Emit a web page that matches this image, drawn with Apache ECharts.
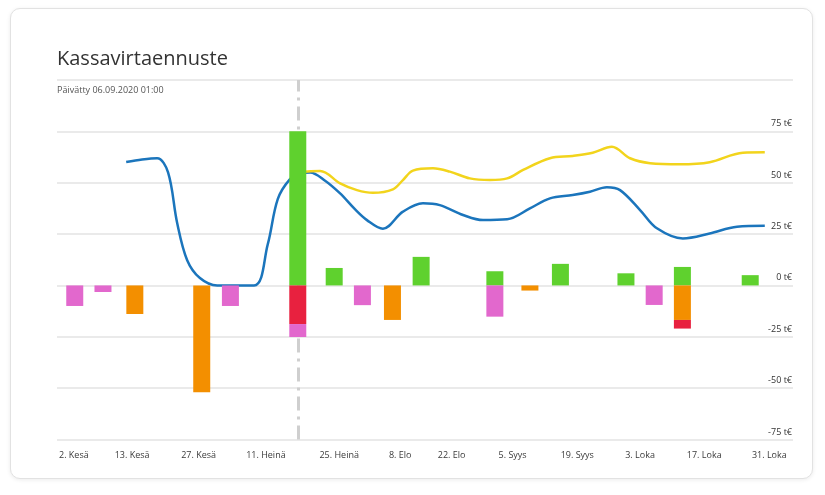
<!DOCTYPE html>
<html>
<head>
<meta charset="utf-8">
<script src="https://cdn.jsdelivr.net/npm/echarts@6/dist/echarts.min.js"></script>
<style>
  html, body { margin: 0; padding: 0; background: #ffffff; }
  #card { position: absolute; left: 10px; top: 8px; width: 801px; height: 469px;
          border: 1px solid #e2e2e2; border-radius: 10px; box-shadow: 0 1px 4px rgba(0,0,0,0.08); background: #fff; }
  #chart { position: absolute; left: 0; top: 0; width: 825px; height: 495px; }
</style>
</head>
<body>
<div id="card"></div>
<div id="chart"></div>
<script>
// x values are day offsets from 1 June 2020 (the axis in the picture is ordinal-like)
const tickLabels = ['2. Kesä', '13. Kesä', '27. Kesä', '11. Heinä', '25. Heinä', '8. Elo', '22. Elo', '5. Syys', '19. Syys', '3. Loka', '17. Loka', '31. Loka'];
const tickDays   = [-0.8, 12.0, 26.6, 41.4, 57.5, 70.9, 82.2, 95.6, 109.8, 123.6, 137.7, 152.0];

const barDays   = [-0.6, 5.6, 12.6, 27.3, 33.6, 48.4, 56.4, 62.6, 69.2, 75.5, 91.7, 99.4, 106.1, 120.5, 126.7, 132.9, 147.8];
const greenVals = [null, null, null, null, null, 75, 8.5, null, null, 13.9, 6.9, null, 10.5, 5.9, null, 9.0, 5.0];
const orangeVals= [null, null, -13.9, -52, null, null, null, null, -16.8, null, null, -2.5, null, null, null, -16.8, null];
const redVals   = [null, null, null, null, null, -18.8, null, null, null, null, null, null, null, null, null, -4.2, null];
const pinkVals  = [-10, -3.2, null, null, -10, -6.3, null, -9.6, null, null, -15.2, null, null, null, -9.5, null, null];

const blueDays = [10.7, 14.2, 17.5, 19.9, 21.9, 24.1, 26.9, 30.7, 38.8, 41.8, 44.0, 46.6, 48.9, 51.1, 54.4, 57.7, 61.0, 63.6, 67.1, 71.5, 75.9, 79.6, 84.7, 89.1, 94.4, 99.4, 103.8, 108.8, 112.6, 116.3, 119.2, 123.6, 127.3, 133.0, 138.9, 144.9, 151.0];
const blueVals = [60.1, 61.3, 61.9, 55, 30.4, 12.3, 3.6, 0, 0, 20, 42, 51.5, 54.5, 55, 51, 44.8, 37, 31.8, 27.6, 35.9, 40, 39.1, 34.3, 31.8, 32.2, 37.5, 42.4, 44, 45.6, 47.8, 46.4, 36.7, 27.8, 22.9, 25.3, 28.6, 29];

const yellowDays = [48.4, 53.3, 57.7, 61.4, 64.9, 69.3, 71.5, 73.7, 78.1, 81.8, 86.2, 90.6, 94.4, 97.9, 103.8, 108.8, 113.2, 117.4, 121.4, 125.8, 132.3, 138.9, 146.2, 151.0];
const yellowVals = [55, 55.7, 49.7, 46.4, 45.1, 46.8, 51.3, 55.9, 57, 55.4, 52.1, 51.3, 52.1, 56.2, 61.9, 63, 64.6, 67.5, 61.9, 59.5, 59, 60, 64.6, 64.8];

const todayDay = 48.4;

const font = 'Open Sans';
const pairs = (xs, ys) => xs.map((x, i) => [x, ys[i]]);
// value first so that stacking is done on the value dimension
const barPairs = (vals) => barDays.map((x, i) => [vals[i], x]);

const chart = echarts.init(document.getElementById('chart'), null, { renderer: 'canvas' });
const barSeries = (name, vals, color) => ({
  name, type: 'bar', stack: 'kassa', data: barPairs(vals), encode: { x: 1, y: 0 },
  barWidth: 17, itemStyle: { color }, z: 4, silent: true
});

chart.setOption({
  animation: false,
  backgroundColor: 'transparent',
  textStyle: { fontFamily: font },
  title: [
    { text: 'Kassavirtaennuste', left: 57, top: 49, padding: 0,
      textStyle: { fontFamily: font, fontSize: 20, fontWeight: 'normal', color: '#333' } },
    { text: 'Päivätty 06.09.2020 01:00', left: 57, top: 86, padding: 0,
      textStyle: { fontFamily: font, fontSize: 9, fontWeight: 'normal', color: '#555' } }
  ],
  grid: { left: 57, right: 32, top: 80, bottom: 55.5 },
  xAxis: {
    type: 'value', min: -4.5, max: 157.2,
    axisLine: { show: false }, axisTick: { show: false }, splitLine: { show: false },
    axisLabel: {
      customValues: tickDays, margin: 11, fontSize: 9, color: '#3a3a3a', fontFamily: font,
      formatter: (v) => { const i = tickDays.findIndex(d => Math.abs(d - v) < 1e-6); return i >= 0 ? tickLabels[i] : ''; }
    }
  },
  yAxis: {
    type: 'value', position: 'right', min: -75, max: 100, interval: 25,
    axisLine: { show: false }, axisTick: { show: false },
    splitLine: { lineStyle: { color: '#e3e3e3', width: 1.5 } },
    axisLabel: {
      inside: true, margin: 1, showMaxLabel: false, fontSize: 9, color: '#333', fontFamily: font,
      verticalAlign: 'bottom', padding: [0, 0, 3, 0],
      formatter: (v) => v === 100 ? '' : v + ' t€'
    }
  },
  series: [
    { name: 'today', type: 'line', data: [], z: 1, silent: true,
      markLine: { silent: true, z: 1, symbol: 'none', label: { show: false },
        lineStyle: { color: '#cfcfcf', width: 3, type: [14, 6, 3, 6] },
        data: [{ xAxis: todayDay }] } },
    { name: 'Kassa', type: 'line', data: pairs(blueDays, blueVals), smooth: 0.35, showSymbol: false,
      lineStyle: { color: '#1b75bc', width: 2.5 }, itemStyle: { color: '#1b75bc' }, z: 2, silent: true },
    { name: 'Ennuste', type: 'line', data: pairs(yellowDays, yellowVals), smooth: 0.35, showSymbol: false,
      lineStyle: { color: '#f2d41c', width: 2.5 }, itemStyle: { color: '#f2d41c' }, z: 2, silent: true },
    barSeries('Tulot', greenVals, '#5fd12e'),
    barSeries('Menot', orangeVals, '#f38f00'),
    barSeries('Verot', redVals, '#e8213f'),
    barSeries('Muut', pinkVals, '#e268cd')
  ]
});
</script>
</body>
</html>
